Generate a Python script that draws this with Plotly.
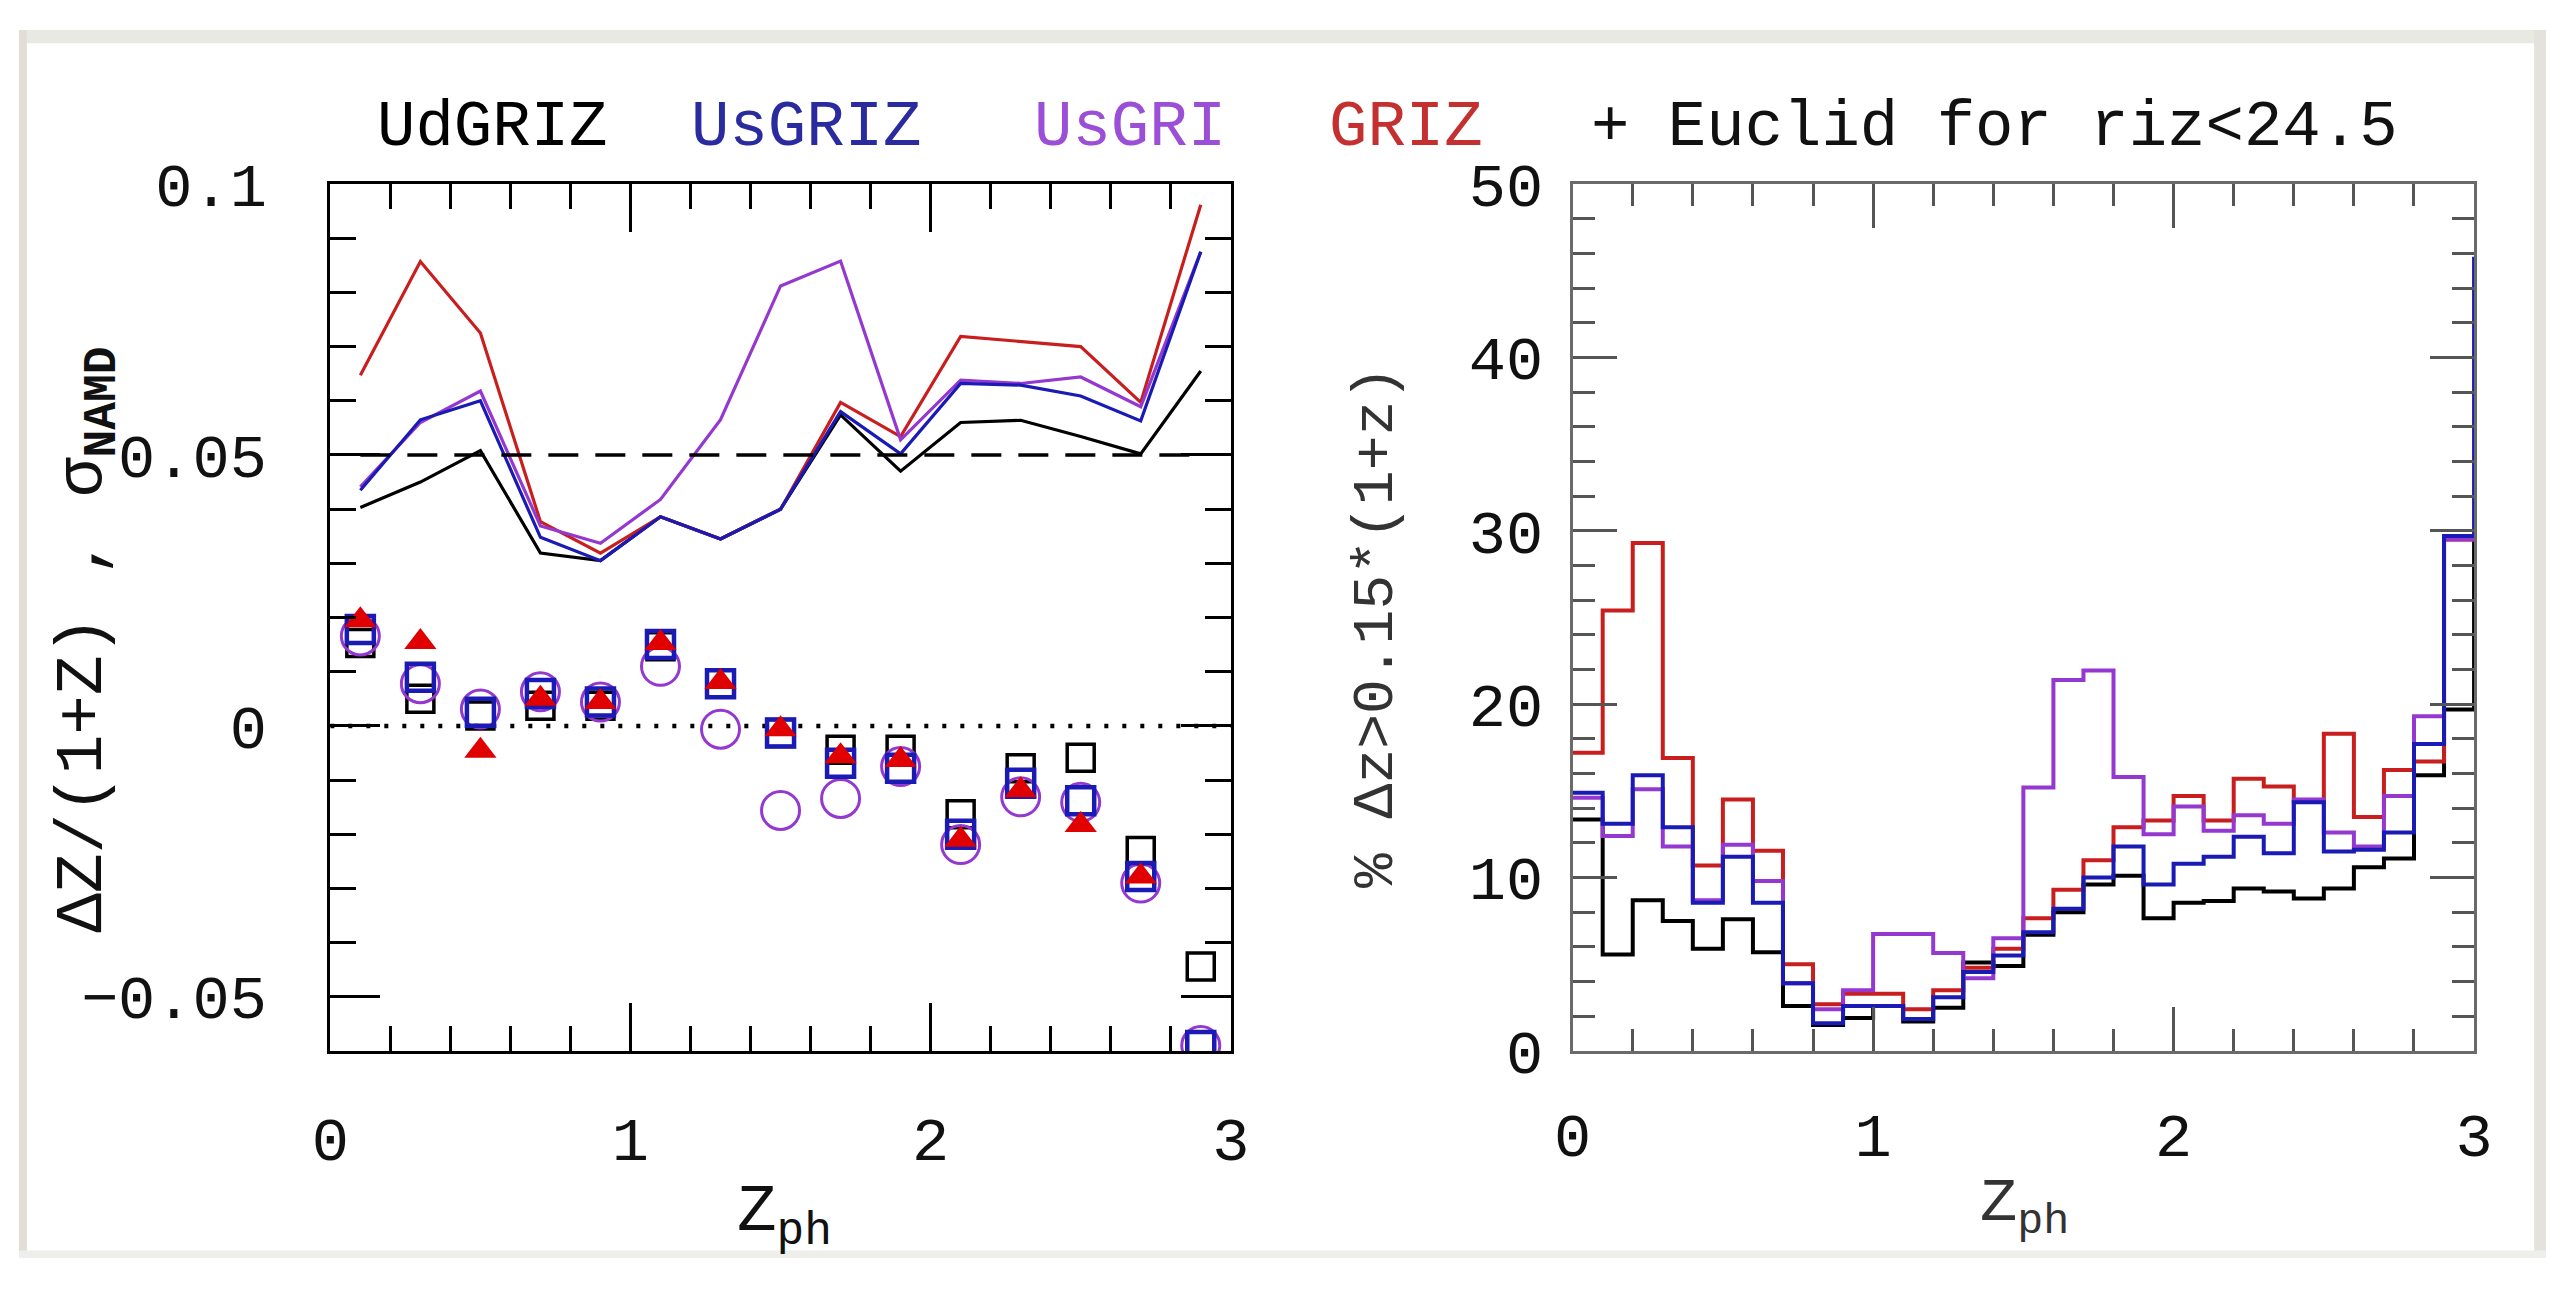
import numpy as np
import plotly.graph_objects as go

# ---------------- data ----------------
z_points = [0.1, 0.3, 0.5, 0.7, 0.9, 1.1, 1.3, 1.5, 1.7, 1.9, 2.1, 2.3, 2.5, 2.7, 2.9]

sigma_udgriz = [0.0403, 0.0450, 0.0508, 0.0319, 0.0305, 0.0386, 0.0345, 0.0400, 0.0574, 0.0470, 0.0560, 0.0564, 0.0534, 0.0502, 0.0655]
sigma_usgriz = [0.0435, 0.0565, 0.0600, 0.0348, 0.0305, 0.0386, 0.0345, 0.0400, 0.0580, 0.0502, 0.0632, 0.0629, 0.0609, 0.0563, 0.0875]
sigma_usgri = [0.0441, 0.0560, 0.0618, 0.0369, 0.0337, 0.0418, 0.0565, 0.0812, 0.0858, 0.0528, 0.0638, 0.0632, 0.0644, 0.0589, 0.0875]
sigma_griz = [0.0647, 0.0857, 0.0725, 0.0377, 0.0319, 0.0386, 0.0345, 0.0400, 0.0597, 0.0534, 0.0719, 0.0710, 0.0700, 0.0597, 0.0962]

bias_udgriz = [0.0153, 0.0050, 0.0019, 0.0037, 0.0037, 0.0147, 0.0078, -0.0013, -0.0044, -0.0044, -0.0163, -0.0078, -0.0059, -0.0231, -0.0444]
bias_usgriz = [0.0178, 0.0090, 0.0025, 0.0060, 0.0044, 0.0150, 0.0078, -0.0013, -0.0069, -0.0078, -0.0200, -0.0106, -0.0138, -0.0278, -0.0590]
bias_usgri = [0.0166, 0.0078, 0.0031, 0.0063, 0.0044, 0.0110, -0.0006, -0.0156, -0.0134, -0.0075, -0.0219, -0.0131, -0.0141, -0.0290, -0.0590]
bias_griz = [0.0195, 0.0155, -0.0046, 0.0050, 0.0044, 0.0153, 0.0081, -0.0006, -0.0056, -0.0063, -0.0210, -0.0119, -0.0183, -0.0278, None]

sigma_limit = 0.05
sigma_limit_z = [0.1, 2.9]
zero_level = 0.0
zero_level_z = [0.0, 3.0]

bin_width = 0.1
outl_udgriz = [13.35, 5.56, 8.7, 7.5, 5.9, 7.6, 5.7, 2.6, 1.5, 1.9, 2.6, 1.7, 2.5, 5.1, 4.9,
               6.7, 8.0, 9.6, 10.1, 7.65, 8.55, 8.65, 9.37, 9.2, 8.8, 9.37, 10.6, 11.1, 15.9, 19.7, 29.7]
outl_usgriz = [14.9, 13.1, 15.9, 12.9, 8.55, 11.2, 8.55, 3.9, 1.6, 2.6, 2.6, 1.85, 3.1, 4.55, 5.5,
               6.85, 8.2, 10.0, 11.8, 9.6, 10.8, 11.2, 12.35, 11.4, 14.35, 11.5, 11.6, 12.6, 17.7, 29.7, 45.7]
outl_usgri = [14.6, 12.4, 15.1, 11.8, 8.7, 11.9, 9.8, 3.9, 2.4, 3.5, 6.75, 6.75, 5.65, 4.2, 6.5,
              15.2, 21.4, 21.95, 15.8, 12.5, 14.1, 12.7, 13.6, 13.1, 14.5, 12.6, 11.8, 14.7, 19.3, 29.5]
outl_griz = [17.2, 25.4, 29.3, 16.9, 10.7, 14.5, 11.55, 5.0, 2.7, 3.3, 3.3, 2.4, 3.5, 4.8, 5.9,
             7.65, 9.3, 11.0, 12.9, 13.3, 14.7, 13.3, 15.7, 15.25, 14.4, 18.3, 13.5, 16.2, 16.7, 29.5]

labels = ["UdGRIZ", "UsGRIZ", "UsGRI", "GRIZ"]
label_extra = "+ Euclid for riz<24.5"

# ---------------- style ----------------
W, H = 2565, 1299
FONT = "Liberation Mono"
C_BLACK = "#000000"
C_BLUE = "#1a1ab4"
C_PURPLE = "#9438d0"
C_RED = "#c81e1e"
C_TRI = "#e00000"


def fx(p):
    return p / W


def fy(p):
    return 1 - p / H


fig = go.Figure()

# ---- left panel: sigma lines ----
for vals, col in [(sigma_udgriz, C_BLACK), (sigma_griz, C_RED), (sigma_usgri, C_PURPLE), (sigma_usgriz, C_BLUE)]:
    fig.add_trace(go.Scatter(x=z_points, y=vals, mode="lines", line=dict(color=col, width=3.2),
                             xaxis="x", yaxis="y", showlegend=False, hoverinfo="skip"))

fig.add_trace(go.Scatter(x=sigma_limit_z, y=[sigma_limit] * len(sigma_limit_z), mode="lines",
                         line=dict(color="black", width=3.5, dash="30px,17px"),
                         xaxis="x", yaxis="y", showlegend=False))
fig.add_trace(go.Scatter(x=zero_level_z, y=[zero_level] * len(zero_level_z), mode="lines",
                         line=dict(color="black", width=4.5, dash="4px,14px"),
                         xaxis="x", yaxis="y", showlegend=False))

# ---- left panel: bias markers ----
fig.add_trace(go.Scatter(x=z_points, y=bias_udgriz, mode="markers",
                         marker=dict(symbol="square-open", size=27, color=C_BLACK, line=dict(width=3.5, color=C_BLACK)),
                         xaxis="x", yaxis="y", showlegend=False))
fig.add_trace(go.Scatter(x=z_points, y=bias_usgri, mode="markers",
                         marker=dict(symbol="circle-open", size=38, color=C_PURPLE, line=dict(width=3, color=C_PURPLE)),
                         xaxis="x", yaxis="y", showlegend=False, cliponaxis=True))
fig.add_trace(go.Scatter(x=z_points, y=bias_usgriz, mode="markers",
                         marker=dict(symbol="square-open", size=27, color=C_BLUE, line=dict(width=4.5, color=C_BLUE)),
                         xaxis="x", yaxis="y", showlegend=False, cliponaxis=True))
fig.add_trace(go.Scatter(x=z_points, y=bias_griz, mode="markers",
                         marker=dict(symbol="triangle-up", size=28, color=C_TRI, line=dict(width=0)),
                         xaxis="x", yaxis="y", showlegend=False))

# ---- right panel: step histograms ----
edges = np.round(np.arange(0, 3.0 + bin_width * 1.5, bin_width), 3)
for vals, col in [(outl_udgriz, C_BLACK), (outl_griz, C_RED), (outl_usgri, C_PURPLE), (outl_usgriz, C_BLUE)]:
    n = len(vals)
    xs = list(edges[:n]) + [edges[n]]
    ys = list(vals) + [vals[-1]]
    fig.add_trace(go.Scatter(x=xs, y=ys, mode="lines", line=dict(color=col, width=4, shape="hv"),
                             xaxis="x2", yaxis="y2", showlegend=False, hoverinfo="skip"))

# ---------------- axes ----------------
ydom = [fy(1080), fy(163)]
common = dict(showgrid=False, zeroline=False, showline=True, mirror="ticks", ticks="inside",
              tickfont=dict(family=FONT, size=62, color="#111"))

fig.update_layout(
    width=W, height=H, margin=dict(l=0, r=0, t=0, b=0),
    paper_bgcolor="white", plot_bgcolor="white",
    xaxis=dict(domain=[fx(316), fx(1230)], range=[0, 3], tickvals=[0, 1, 2, 3],
               linecolor="black", linewidth=3, ticklen=48, tickwidth=2.5, tickcolor="black",
               minor=dict(dtick=0.2, ticks="inside", ticklen=25, tickwidth=2.5, tickcolor="black"),
               anchor="y", ticklabelstandoff=32, **common),
    yaxis=dict(domain=ydom, range=[-0.06, 0.1], tickvals=[-0.05, 0, 0.05, 0.1],
               ticktext=["\u22120.05", "0", "0.05", "0.1"],
               linecolor="black", linewidth=3, ticklen=50, tickwidth=2.5, tickcolor="black",
               minor=dict(dtick=0.01, ticks="inside", ticklen=26, tickwidth=2.5, tickcolor="black"),
               anchor="x", ticklabelstandoff=48, **common),
    xaxis2=dict(domain=[fx(1577), fx(2492)], range=[0, 3], tickvals=[0, 1, 2, 3],
                linecolor="#6a6a6a", linewidth=3, ticklen=44, tickwidth=2.5, tickcolor="#555",
                minor=dict(dtick=0.2, ticks="inside", ticklen=22, tickwidth=2.5, tickcolor="#555"),
                anchor="y2", ticklabelstandoff=28, **common),
    yaxis2=dict(domain=ydom, range=[0, 50], tickvals=[0, 10, 20, 30, 40, 50],
                linecolor="#6a6a6a", linewidth=3, ticklen=44, tickwidth=3, tickcolor="#555",
                minor=dict(dtick=2, ticks="inside", ticklen=22, tickwidth=3, tickcolor="#555"),
                anchor="x2", ticklabelstandoff=14, **common),
)

# ---------------- slide border ----------------
shapes = [
    dict(type="rect", xref="paper", yref="paper", x0=0, x1=1, y0=fy(14), y1=1,
         fillcolor="#e8e9e2", line=dict(width=0), layer="below"),
    dict(type="rect", xref="paper", yref="paper", x0=0, x1=fx(8), y0=0, y1=1,
         fillcolor="#e2ded7", line=dict(width=0), layer="below"),
    dict(type="rect", xref="paper", yref="paper", x0=fx(2553), x1=1, y0=0, y1=1,
         fillcolor="#e4e2dc", line=dict(width=0), layer="below"),
    dict(type="rect", xref="paper", yref="paper", x0=0, x1=1, y0=0, y1=fy(1291),
         fillcolor="#eeeeea", line=dict(width=0), layer="below"),
]
fig.update_layout(shapes=shapes)

# ---------------- text ----------------
ann = []
title_pos = [(361, C_BLACK), (680, "#2b2ba0"), (1028, "#9b4fd6"), (1328, "#c43030")]
for lab, (xp, col) in zip(labels, title_pos):
    ann.append(dict(text=lab, x=fx(xp), y=fy(104), xref="paper", yref="paper", xanchor="left",
                    yanchor="middle", showarrow=False, font=dict(family=FONT, size=64, color=col)))
ann.append(dict(text=label_extra, x=fx(1594), y=fy(104), xref="paper", yref="paper", xanchor="left",
                yanchor="middle", showarrow=False, font=dict(family=FONT, size=64, color="#111")))

ann.append(dict(text="\u0394Z/(1+Z) , \u03c3<sub><b>NAMD</b></sub>", x=fx(70), y=fy(645),
                xref="paper", yref="paper", xanchor="center", yanchor="middle", textangle=-90,
                showarrow=False, font=dict(family=FONT, size=66, color="#111")))
ann.append(dict(text="% \u0394z>0.15*(1+z)", x=fx(1378), y=fy(632),
                xref="paper", yref="paper", xanchor="center", yanchor="middle", textangle=-90,
                showarrow=False, font=dict(family=FONT, size=58, color="#333")))
ann.append(dict(text="Z<sub>ph</sub>", x=fx(777), y=fy(1255), xref="paper", yref="paper",
                xanchor="center", yanchor="middle", showarrow=False,
                font=dict(family=FONT, size=66, color="#111")))
ann.append(dict(text="Z<sub>ph</sub>", x=fx(2036), y=fy(1245), xref="paper", yref="paper",
                xanchor="center", yanchor="middle", showarrow=False,
                font=dict(family=FONT, size=62, color="#333")))
fig.update_layout(annotations=ann)

fig.write_html("out.html")
